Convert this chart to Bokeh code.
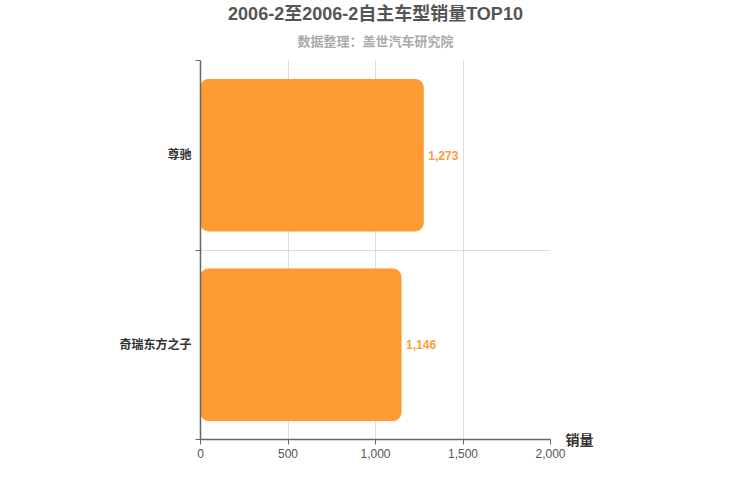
from bokeh.plotting import figure
from bokeh.models import Range1d, FixedTicker, Title, LinearAxis, ColumnDataSource
from bokeh.core.properties import value
from bokeh.embed import file_html
from bokeh.resources import INLINE

title_text = "2006-2至2006-2自主车型销量TOP10"
subtitle_text = "数据整理：盖世汽车研究院"
axis_label_text = "销量"

models = ["奇瑞东方之子", "尊驰"]   # bottom to top
sales = [1146, 1273]
x_ticks = [0, 500, 1000, 1500, 2000]

FONT = "'Liberation Sans', 'Noto Sans CJK SC', sans-serif"
BAR = "#FF9B33"

ypos = [i + 0.5 for i in range(len(models))]
src = ColumnDataSource(dict(y=ypos, v=sales, lab=[f"{v:,}" for v in sales]))

p = figure(width=734, height=484, output_backend="svg", toolbar_location=None,
           title=None, x_range=Range1d(0, 2000), y_range=Range1d(0, len(models)),
           min_border_left=200, min_border_right=184, min_border_top=60,
           min_border_bottom=45)
p.outline_line_color = None
p.background_fill_color = "white"
p.border_fill_color = "white"

p.hbar(y="y", right="v", left=0, height=0.8, source=src, color=BAR,
       border_radius=8)
p.text(x="v", y="y", text="lab", source=src, x_offset=5,
       text_align="left", text_baseline="middle", text_color=BAR,
       text_font=value(FONT), text_font_size="12px", text_font_style="bold")

# x axis
p.xaxis.ticker = FixedTicker(ticks=x_ticks)
p.xaxis.major_label_overrides = {t: f"{t:,}" for t in x_ticks}
p.xaxis.axis_line_color = "#666666"
p.xaxis.axis_line_width = 1.5
p.xaxis.major_tick_line_color = "#666666"
p.xaxis.major_tick_in = 0
p.xaxis.major_tick_out = 5
p.xaxis.minor_tick_line_color = None
p.xaxis.major_label_text_font = FONT
p.xaxis.major_label_text_font_size = "12px"
p.xaxis.major_label_text_color = "#555555"
p.xaxis.major_label_standoff = 4
p.xgrid.grid_line_color = "#dddddd"

# y axis
p.yaxis.ticker = FixedTicker(ticks=ypos, minor_ticks=list(range(len(models) + 1)))
p.yaxis.major_label_overrides = {y: m for y, m in zip(ypos, models)}
p.yaxis.axis_line_color = "#666666"
p.yaxis.axis_line_width = 1.5
p.yaxis.major_tick_line_color = None
p.yaxis.major_tick_in = 0
p.yaxis.major_tick_out = 5
p.yaxis.minor_tick_line_color = "#666666"
p.yaxis.minor_tick_in = 0
p.yaxis.minor_tick_out = 5
p.yaxis.major_label_text_font = FONT
p.yaxis.major_label_text_font_size = "12px"
p.yaxis.major_label_text_font_style = "bold"
p.yaxis.major_label_text_color = "#333333"
p.yaxis.major_label_standoff = 4
p.ygrid.grid_line_color = None
p.ygrid.minor_grid_line_color = "#dddddd"

# value-axis name, placed at the right end of the x axis
name_axis = LinearAxis(ticker=FixedTicker(ticks=[0], minor_ticks=[]),
                       major_label_overrides={0: axis_label_text},
                       axis_line_color=None, major_tick_line_color=None,
                       minor_tick_line_color=None, major_tick_in=0,
                       major_tick_out=0, major_label_standoff=15,
                       major_label_text_font=FONT,
                       major_label_text_font_size="14px",
                       major_label_text_font_style="bold",
                       major_label_text_color="#333333")
p.add_layout(name_axis, "right")

p.add_layout(Title(text=subtitle_text, align="center", text_font=FONT,
                   text_font_size="13px", text_font_style="bold",
                   text_color="#aaaaaa", standoff=19,
                   vertical_align="top"), "above")
p.add_layout(Title(text=title_text, align="center", text_font=FONT,
                   text_font_size="18px", text_font_style="bold",
                   text_color="#555555", standoff=2), "above")

open("out.html", "w").write(file_html(p, INLINE))
